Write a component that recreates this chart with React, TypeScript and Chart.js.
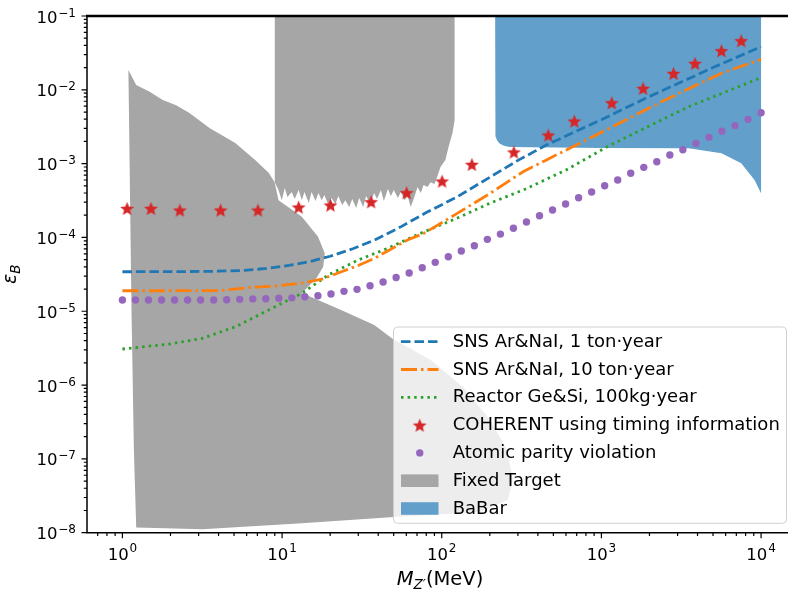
import React, { useEffect, useRef } from 'react';
import { Chart, registerables } from 'chart.js';

Chart.register(...registerables);

const FONT = '"DejaVu Sans", sans-serif';

// ---- axis ranges & tick labels ----
const X_MIN = Math.pow(10, -0.2);
const X_MAX = Math.pow(10, 4.2);
const Y_MIN = 1e-8;
const Y_MAX = 1e-1;
const xMajorTicks = [1, 10, 100, 1000, 10000];
const xTickExp = ['0', '1', '2', '3', '4'];
const yMajorTicks = [1e-8, 1e-7, 1e-6, 1e-5, 1e-4, 1e-3, 1e-2, 1e-1];
const yTickExp = ['\u22128', '\u22127', '\u22126', '\u22125', '\u22124', '\u22123', '\u22122', '\u22121'];

// ---- SNS Ar&NaI, 1 ton·year ----
const sns1X = [1, 2, 3.5, 5.5, 8, 11, 15, 20, 28, 38, 55, 80, 125, 200, 300, 452, 700, 1000, 2000, 5000, 10000];
const sns1Y = [3.43e-5, 3.44e-5, 3.47e-5, 3.55e-5, 3.8e-5, 4.17e-5, 4.73e-5, 5.56e-5, 7.08e-5, 9.23e-5, 1.38e-4, 2.17e-4, 3.55e-4, 6.53e-4, 1.107e-3, 1.786e-3, 2.77e-3, 3.94e-3, 8.13e-3, 2.0e-2, 3.84e-2];

// ---- SNS Ar&NaI, 10 ton·year ----
const sns10X = [1, 2, 4, 6.5, 9, 13.3, 18, 23.5, 30, 37.8, 48, 61, 77.3, 100, 125, 160, 201, 260, 323, 450, 661, 1000, 1349, 2760, 5650, 10000];
const sns10Y = [1.897e-5, 1.897e-5, 1.905e-5, 2.11e-5, 2.19e-5, 2.4e-5, 2.75e-5, 3.43e-5, 4.17e-5, 5.21e-5, 6.92e-5, 9.23e-5, 1.138e-4, 1.585e-4, 2.12e-4, 2.93e-4, 3.96e-4, 5.71e-4, 7.76e-4, 1.114e-3, 1.694e-3, 2.66e-3, 3.7e-3, 8.07e-3, 1.675e-2, 2.59e-2];

// ---- Reactor Ge&Si, 100kg·year ----
const reactorX = [1, 1.97, 3.17, 5.11, 8.24, 13.3, 19.4, 29.9, 45.8, 73.8, 125, 201, 323, 601, 1117, 3510, 10000];
const reactorY = [3.08e-6, 3.6e-6, 4.3e-6, 6.17e-6, 1.04e-5, 1.75e-5, 3.09e-5, 4.94e-5, 7.11e-5, 1.14e-4, 1.83e-4, 2.92e-4, 4.38e-4, 8.18e-4, 1.75e-3, 5.9e-3, 1.46e-2];

// ---- COHERENT using timing information ----
const coherentX = [1.07, 1.51, 2.29, 4.12, 7.06, 12.7, 20.1, 36.1, 60.3, 100.5, 154.5, 283, 465, 676, 1161, 1824, 2830, 3857, 5646, 7509];
const coherentY = [2.48e-4, 2.48e-4, 2.35e-4, 2.35e-4, 2.35e-4, 2.58e-4, 2.75e-4, 3.05e-4, 4.04e-4, 5.81e-4, 9.77e-4, 1.44e-3, 2.44e-3, 3.78e-3, 6.68e-3, 1.05e-2, 1.67e-2, 2.29e-2, 3.39e-2, 4.63e-2];

// ---- Atomic parity violation ----
const apvX = [1, 1.207, 1.456, 1.758, 2.121, 2.56, 3.089, 3.728, 4.498, 5.429, 6.551, 7.906, 9.541, 11.51, 13.89, 16.77, 20.24, 24.42, 29.47, 35.56, 42.92, 51.79, 62.51, 75.44, 91.03, 109.9, 132.6, 160.0, 193.1, 233.0, 281.2, 339.3, 409.5, 494.2, 596.4, 719.7, 868.5, 1048, 1265, 1526, 1842, 2223, 2683, 3237, 3907, 4715, 5690, 6866, 8286, 10000];
const apvY = [1.42e-5, 1.42e-5, 1.42e-5, 1.42e-5, 1.42e-5, 1.42e-5, 1.42e-5, 1.42e-5, 1.43e-5, 1.45e-5, 1.47e-5, 1.48e-5, 1.5e-5, 1.52e-5, 1.57e-5, 1.62e-5, 1.71e-5, 1.86e-5, 1.98e-5, 2.22e-5, 2.49e-5, 2.86e-5, 3.3e-5, 3.88e-5, 4.6e-5, 5.47e-5, 6.54e-5, 7.72e-5, 9.42e-5, 1.11e-4, 1.33e-4, 1.62e-4, 1.97e-4, 2.35e-4, 2.84e-4, 3.45e-4, 4.12e-4, 5.02e-4, 6.0e-4, 7.4e-4, 8.91e-4, 1.06e-3, 1.31e-3, 1.54e-3, 1.88e-3, 2.27e-3, 2.74e-3, 3.27e-3, 3.98e-3, 4.9e-3];

// ---- Fixed Target (low-mass region outline) ----
const ftLowX = [1.09, 1.22, 1.48, 1.79, 2.17, 2.63, 3.51, 5.09, 6.78, 8.24, 8.98, 9.5, 13.3, 16.8, 18.5, 18.1, 16.4, 14.2, 13.3, 23.4, 37.8, 50.1, 55.4, 85.1, 136, 201, 256, 279, 259, 174, 50.1, 13.3, 3.17, 1.22, 1.18, 1.14];
const ftLowY = [1.85e-2, 1.16e-2, 9.4e-3, 7.3e-3, 6.2e-3, 4.85e-3, 3.03e-3, 1.9e-3, 1.12e-3, 7.5e-4, 5.6e-4, 3.2e-4, 1.9e-4, 1.02e-4, 6.1e-5, 4.0e-5, 2.8e-5, 2.04e-5, 1.77e-5, 1.04e-5, 6.5e-6, 4.1e-6, 3.7e-6, 2.18e-6, 9.4e-7, 3.36e-7, 1.32e-7, 5.2e-8, 2.77e-8, 1.9e-8, 1.63e-8, 1.34e-8, 1.11e-8, 1.18e-8, 1.3e-7, 1e-5];

// ---- Fixed Target (upper region outline, jagged lower edge) ----
const ftHighX = [9.0, 9.0, 9.5, 9.96, 10.4, 10.8, 11.5, 12.0, 12.7, 13.3, 13.8, 14.7, 15.3, 16.2, 16.9, 17.7, 18.4, 19.5, 20.4, 21.6, 22.5, 23.8, 24.9, 26.3, 27.5, 29.1, 30.4, 32.2, 33.6, 35.6, 37.7, 39.3, 41.6, 43.4, 46.0, 48.0, 50.1, 53.1, 55.4, 58.6, 61.2, 63.9, 66.7, 70.6, 73.8, 77.0, 81.5, 85.1, 90.1, 94.0, 98.2, 105.4, 110.3, 116.8, 120.4, 120.4];
const ftHighY = [0.1, 5.6e-4, 4.38e-4, 3.2e-4, 4.68e-4, 3.52e-4, 4.12e-4, 3.31e-4, 4.38e-4, 3.2e-4, 4.12e-4, 2.92e-4, 4.12e-4, 3.11e-4, 4.0e-4, 3.2e-4, 3.76e-4, 2.75e-4, 3.42e-4, 2.84e-4, 3.64e-4, 2.75e-4, 3.2e-4, 2.58e-4, 3.31e-4, 2.5e-4, 3.42e-4, 2.58e-4, 3.64e-4, 2.84e-4, 4.0e-4, 3.31e-4, 4.38e-4, 3.11e-4, 4.53e-4, 3.64e-4, 4.38e-4, 3.42e-4, 4.12e-4, 3.2e-4, 3.64e-4, 2.58e-4, 3.31e-4, 4.82e-4, 4.0e-4, 5.13e-4, 4.82e-4, 5.6e-4, 5.3e-4, 6.8e-4, 9.0e-4, 1.12e-3, 1.68e-3, 2.6e-3, 3.9e-3, 0.1];

// ---- BaBar outline ----
const babarX = [216, 216, 218, 222, 230, 245, 267, 968, 3510, 5650, 7510, 9100, 10000, 10000];
const babarY = [0.1, 2.75e-3, 2.35e-3, 2.07e-3, 1.88e-3, 1.75e-3, 1.68e-3, 1.63e-3, 1.62e-3, 1.38e-3, 1.01e-3, 6.0e-4, 3.96e-4, 0.1];

// ---- legend labels ----
const legendLabels = [
  'SNS Ar&NaI, 1 ton\u00b7year',
  'SNS Ar&NaI, 10 ton\u00b7year',
  'Reactor Ge&Si, 100kg\u00b7year',
  'COHERENT using timing information',
  'Atomic parity violation',
  'Fixed Target',
  'BaBar',
];

const C_BLUE = '#1f77b4';
const C_ORANGE = '#ff7f0e';
const C_GREEN = '#2ca02c';
const C_RED = '#d62728';
const C_PURPLE = '#9467bd';
const C_GRAY = 'rgb(166,166,166)';
const C_BABAR = 'rgb(98,160,203)';
const LW = 2.8;
const DASH_BLUE = [9.5, 4];
const DASH_ORANGE = [16, 4, 2.5, 4];
const DASH_GREEN = [2.5, 4.1];

const pts = (xs: number[], ys: number[]) => xs.map((x, i) => ({ x, y: ys[i] }));

function makeStar(r: number, color: string) {
  const c = document.createElement('canvas');
  const s = Math.ceil(r * 2 + 2);
  c.width = s;
  c.height = s;
  const g = c.getContext('2d')!;
  g.fillStyle = color;
  g.beginPath();
  for (let i = 0; i < 10; i++) {
    const rr = i % 2 === 0 ? r : r * 0.45;
    const ang = -Math.PI / 2 + (i * Math.PI) / 5;
    g.lineTo(s / 2 + rr * Math.cos(ang), s / 2 + 0.8 + rr * Math.sin(ang));
  }
  g.closePath();
  g.fill();
  return c;
}

function drawPow(ctx: CanvasRenderingContext2D, exp: string, x: number, baseY: number, supY: number, align: string) {
  ctx.font = `16.5px ${FONT}`;
  const wb = ctx.measureText('10').width;
  ctx.font = `12px ${FONT}`;
  const we = ctx.measureText(exp).width;
  const gap = 0.8;
  const total = wb + gap + we;
  const x0 = align === 'right' ? x - total : x - total / 2;
  ctx.textAlign = 'left';
  ctx.textBaseline = 'alphabetic';
  ctx.fillStyle = '#000';
  ctx.font = `16.5px ${FONT}`;
  ctx.fillText('10', x0, baseY);
  ctx.font = `12px ${FONT}`;
  ctx.fillText(exp, x0 + wb + gap, supY);
}

export default function App() {
  const ref = useRef<HTMLCanvasElement>(null);

  useEffect(() => {
    const canvas = ref.current!;
    const star = makeStar(7.3, C_RED);

    const decor = {
      id: 'decor',
      afterDraw(chart: any) {
        const ctx: CanvasRenderingContext2D = chart.ctx;
        const a = chart.chartArea;
        const xs = chart.scales.x;
        const ys = chart.scales.y;
        ctx.save();
        // spines
        ctx.strokeStyle = '#000';
        ctx.lineWidth = 1.5;
        ctx.beginPath();
        ctx.moveTo(a.left, a.top);
        ctx.lineTo(a.left, a.bottom);
        ctx.lineTo(a.right, a.bottom);
        ctx.lineTo(a.right, a.top);
        ctx.stroke();
        ctx.lineWidth = 2.6;
        ctx.beginPath();
        ctx.moveTo(a.left - 1, a.top);
        ctx.lineTo(a.right + 1, a.top);
        ctx.stroke();

        // ticks
        ctx.lineWidth = 1.2;
        const xMinor: number[] = [];
        for (let e = -1; e <= 4; e++) for (let m = 2; m <= 9; m++) {
          const v = m * Math.pow(10, e);
          if (v >= X_MIN && v <= X_MAX) xMinor.push(v);
        }
        const yMinor: number[] = [];
        for (let e = -8; e <= -2; e++) for (let m = 2; m <= 9; m++) yMinor.push(m * Math.pow(10, e));
        ctx.beginPath();
        xMajorTicks.forEach((v) => { const p = xs.getPixelForValue(v); ctx.moveTo(p, a.bottom); ctx.lineTo(p, a.bottom + 5.5); });
        xMinor.forEach((v) => { const p = xs.getPixelForValue(v); ctx.moveTo(p, a.bottom); ctx.lineTo(p, a.bottom + 3.2); });
        yMajorTicks.forEach((v) => { const p = ys.getPixelForValue(v); ctx.moveTo(a.left, p); ctx.lineTo(a.left - 5.5, p); });
        yMinor.forEach((v) => { const p = ys.getPixelForValue(v); ctx.moveTo(a.left, p); ctx.lineTo(a.left - 3.2, p); });
        ctx.stroke();

        // tick labels
        xMajorTicks.forEach((v, i) => {
          const p = xs.getPixelForValue(v);
          drawPow(ctx, xTickExp[i], p, a.bottom + 27.3, a.bottom + 19, 'center');
        });
        yMajorTicks.forEach((v, i) => {
          const p = ys.getPixelForValue(v);
          drawPow(ctx, yTickExp[i], a.left - 11, p + 6.6, p + 0.5, 'right');
        });

        // x title: M_{Z'}(MeV)
        {
          const big = `19.5px ${FONT}`;
          const bigI = `italic 19.5px ${FONT}`;
          const sub = `italic 13.5px ${FONT}`;
          ctx.font = bigI; const w1 = ctx.measureText('M').width;
          ctx.font = sub; const w2 = ctx.measureText('Z\u2032').width;
          ctx.font = big; const w3 = ctx.measureText('(MeV)').width;
          const cx = (a.left + a.right) / 2;
          let x0 = cx - (w1 + w2 + w3) / 2;
          const by = 585;
          ctx.fillStyle = '#000';
          ctx.textAlign = 'left';
          ctx.textBaseline = 'alphabetic';
          ctx.font = bigI; ctx.fillText('M', x0, by); x0 += w1;
          ctx.font = sub; ctx.fillText('Z\u2032', x0, by + 4); x0 += w2;
          ctx.font = big; ctx.fillText('(MeV)', x0, by);
        }
        // y title: epsilon_B
        {
          ctx.save();
          ctx.translate(16, (a.top + a.bottom) / 2);
          ctx.rotate(-Math.PI / 2);
          const f1 = `italic 19px ${FONT}`;
          const f2 = `italic 13.5px ${FONT}`;
          ctx.font = f1; const w1 = ctx.measureText('\u03b5').width;
          ctx.font = f2; const w2 = ctx.measureText('B').width;
          let x0 = -(w1 + w2) / 2;
          ctx.fillStyle = '#000';
          ctx.textAlign = 'left';
          ctx.textBaseline = 'alphabetic';
          ctx.font = f1; ctx.fillText('\u03b5', x0, 0); x0 += w1;
          ctx.font = f2; ctx.fillText('B', x0, 3.5);
          ctx.restore();
        }

        // legend
        {
          const L = 393.5, T = 327, R = 786.5, B = 523.3;
          ctx.beginPath();
          ctx.roundRect(L, T, R - L, B - T, 4);
          ctx.fillStyle = 'rgba(255,255,255,0.8)';
          ctx.fill();
          ctx.strokeStyle = 'rgba(204,204,204,0.9)';
          ctx.lineWidth = 1;
          ctx.stroke();
          const hx0 = 401, hx1 = 438.5, hc = (hx0 + hx1) / 2, tx = 452.7;
          const rows = [341.7, 369.5, 397.3, 425.1, 452.9, 480.7, 508.5];
          const drawLineHandle = (y: number, color: string, dash: number[]) => {
            ctx.save();
            ctx.strokeStyle = color;
            ctx.lineWidth = LW;
            ctx.setLineDash(dash);
            ctx.beginPath();
            ctx.moveTo(hx0, y);
            ctx.lineTo(hx1, y);
            ctx.stroke();
            ctx.restore();
          };
          drawLineHandle(rows[0], C_BLUE, DASH_BLUE);
          drawLineHandle(rows[1], C_ORANGE, DASH_ORANGE);
          drawLineHandle(rows[2], C_GREEN, DASH_GREEN);
          ctx.drawImage(star, hc - star.width / 2, rows[3] - star.height / 2);
          ctx.fillStyle = C_PURPLE;
          ctx.beginPath();
          ctx.arc(hc, rows[4], 3.7, 0, Math.PI * 2);
          ctx.fill();
          ctx.fillStyle = C_GRAY;
          ctx.fillRect(hx0, rows[5] - 6.3, hx1 - hx0, 12.6);
          ctx.fillStyle = C_BABAR;
          ctx.fillRect(hx0, rows[6] - 6.3, hx1 - hx0, 12.6);
          ctx.fillStyle = '#000';
          ctx.font = `18px ${FONT}`;
          ctx.textAlign = 'left';
          ctx.textBaseline = 'middle';
          legendLabels.forEach((t, i) => ctx.fillText(t, tx, rows[i] + 0.5));
        }
        ctx.restore();
      },
    };

    const polygon = (label: string, xs: number[], ys: number[], color: string) => ({
      label,
      data: pts(xs, ys),
      showLine: true,
      fill: 'shape',
      backgroundColor: color,
      borderColor: 'rgba(0,0,0,0)',
      borderWidth: 0,
      pointRadius: 0,
      order: 10,
    });
    const curve = (label: string, xs: number[], ys: number[], color: string, dash: number[]) => ({
      label,
      data: pts(xs, ys),
      showLine: true,
      fill: false,
      borderColor: color,
      backgroundColor: color,
      borderWidth: LW,
      borderDash: dash,
      borderCapStyle: 'butt',
      pointRadius: 0,
      order: 5,
    });

    const chart = new Chart(canvas, {
      type: 'scatter',
      data: {
        datasets: [
          polygon('Fixed Target', ftLowX, ftLowY, C_GRAY),
          polygon('Fixed Target', ftHighX, ftHighY, C_GRAY),
          polygon('BaBar', babarX, babarY, C_BABAR),
          curve(legendLabels[0], sns1X, sns1Y, C_BLUE, DASH_BLUE),
          curve(legendLabels[1], sns10X, sns10Y, C_ORANGE, DASH_ORANGE),
          curve(legendLabels[2], reactorX, reactorY, C_GREEN, DASH_GREEN),
          {
            label: legendLabels[4],
            data: pts(apvX, apvY),
            showLine: false,
            pointRadius: 3.7,
            pointBackgroundColor: C_PURPLE,
            pointBorderWidth: 0,
            pointBorderColor: 'rgba(0,0,0,0)',
            order: 2,
          },
          {
            label: legendLabels[3],
            data: pts(coherentX, coherentY),
            showLine: false,
            pointStyle: star,
            pointRadius: 6,
            order: 1,
          },
        ] as any,
      },
      options: {
        animation: false,
        responsive: false,
        devicePixelRatio: 1,
        layout: { padding: { top: 16, right: 4.6, left: 0, bottom: 0 } },
        plugins: { legend: { display: false }, tooltip: { enabled: false } },
        events: [],
        scales: {
          x: {
            type: 'logarithmic',
            min: X_MIN,
            max: X_MAX,
            grid: { display: false },
            border: { display: false },
            ticks: { display: false },
            afterFit: (s: any) => { s.height = 58.3; },
          },
          y: {
            type: 'logarithmic',
            min: Y_MIN,
            max: Y_MAX,
            grid: { display: false },
            border: { display: false },
            ticks: { display: false },
            afterFit: (s: any) => { s.width = 87; },
          },
        },
      } as any,
      plugins: [decor],
    });
    return () => chart.destroy();
  }, []);

  return (
    <div style={{ position: 'fixed', left: 0, top: 0, width: 788, height: 591, overflow: 'hidden', background: '#fff' }}>
      <canvas ref={ref} width={800} height={591} style={{ display: 'block', width: 800, height: 591 }} />
    </div>
  );
}
